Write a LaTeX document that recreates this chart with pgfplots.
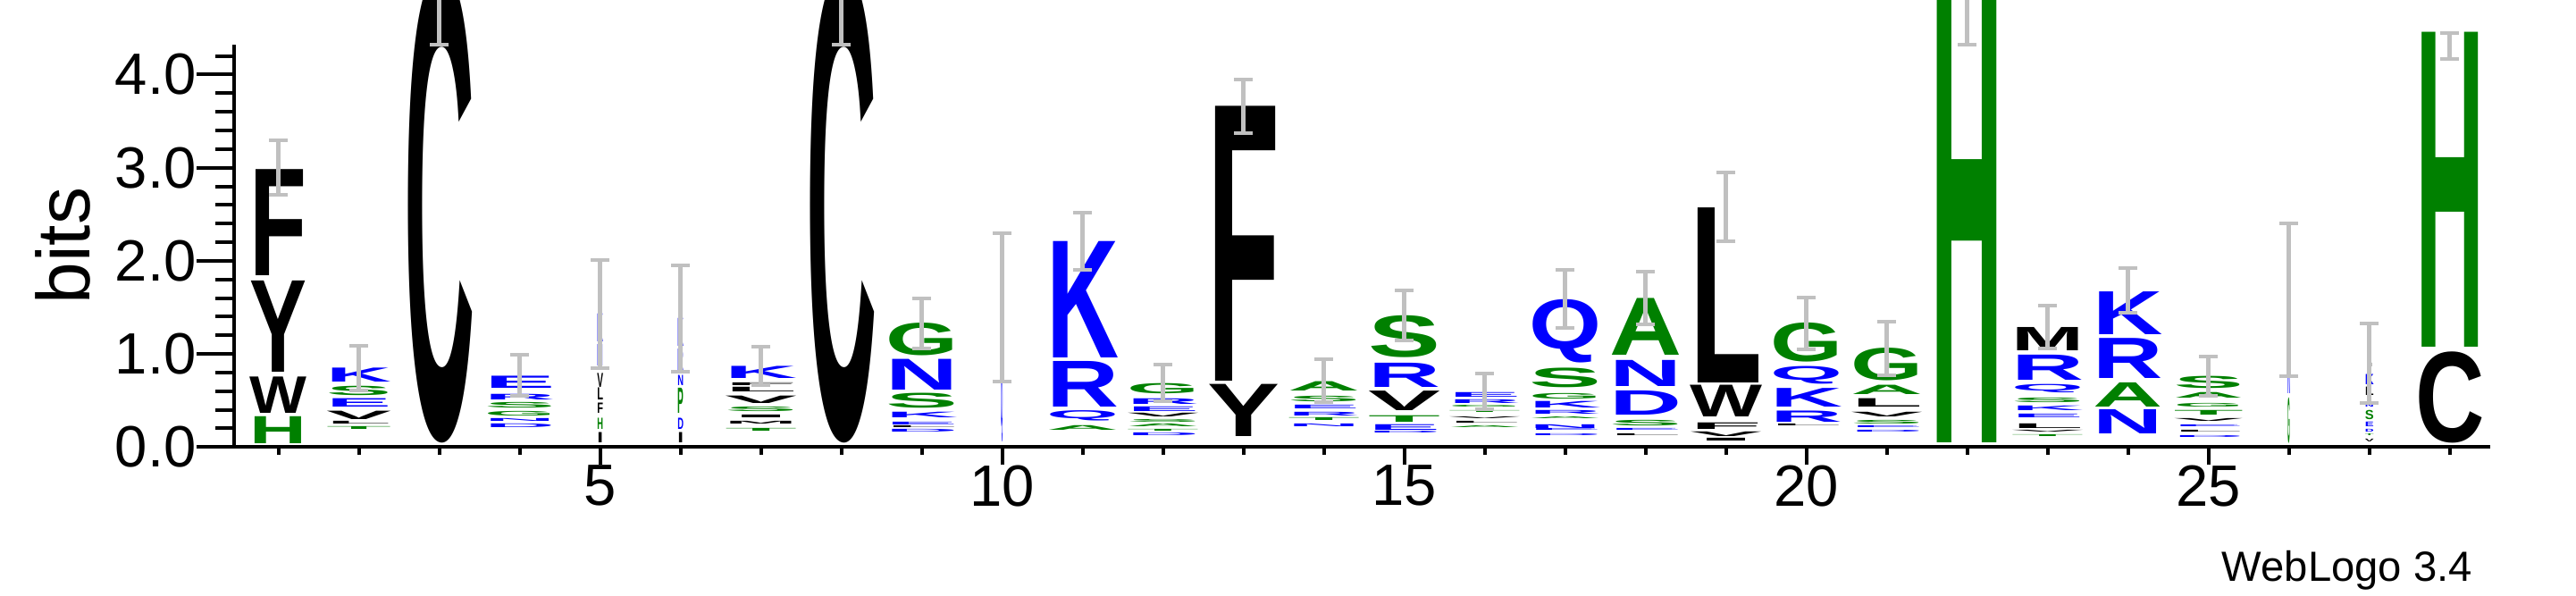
\documentclass[border=0pt]{standalone}
\usepackage{fontspec}
\setmainfont{Liberation Sans}
\usepackage{graphicx}
\usepackage{pgfplots}
\usepackage{pgfplotstable}
\pgfplotsset{compat=1.18}
\definecolor{wlgreen}{RGB}{0,128,0}
\definecolor{wlblue}{RGB}{0,0,255}
\definecolor{errgray}{RGB}{192,192,192}

\pgfplotstableread{
x y h w L
1 0.04 0.29 0.71 H
2 0.19 0.03 0.81 T
2 0.55 0.10 0.81 S
4 0.33 0.05 0.88 G
4 0.42 0.06 0.88 S
5 0.19 0.12 0.075 H
6 0.36 0.27 0.075 P
7 0.17 0.03 0.9 T
7 0.38 0.05 0.9 S
9 0.42 0.16 0.9 S
9 0.98 0.35 0.9 G
11 0.18 0.05 0.9 A
12 0.16 0.02 0.9 T
12 0.21 0.03 0.9 A
12 0.26 0.03 0.9 S
12 0.57 0.11 0.9 G
14 0.28 0.03 0.9 T
14 0.49 0.06 0.9 S
14 0.60 0.10 0.9 A
15 0.27 0.07 0.9 T
15 0.96 0.45 0.9 S
16 0.20 0.02 0.9 A
16 0.36 0.02 0.9 T
16 0.42 0.02 0.9 G
17 0.30 0.02 0.9 A
17 0.52 0.06 0.9 G
17 0.64 0.21 0.9 S
18 0.23 0.06 0.9 S
18 0.99 0.61 0.9 A
20 0.91 0.42 0.9 G
21 0.25 0.04 0.9 S
21 0.56 0.10 0.9 A
21 0.71 0.35 0.9 G
22 0.05 5.05 0.91 H
23 0.10 0.02 0.9 T
23 0.48 0.05 0.9 S
24 0.43 0.26 0.87 A
25 0.34 0.05 0.87 T
25 0.43 0.04 0.87 G
25 0.53 0.06 0.87 A
25 0.63 0.13 0.87 S
26 0.04 0.49 0.03 G
27 0.11 0.02 0.11 T
27 0.29 0.10 0.11 S
28 1.07 3.38 0.86 H
}\greentab

\pgfplotstableread{
x y h w L
2 0.43 0.09 0.81 E
2 0.70 0.15 0.81 K
4 0.21 0.04 0.88 D
4 0.27 0.03 0.88 N
4 0.51 0.06 0.88 R
4 0.63 0.13 0.88 E
5 0.87 0.23 0.075 N
5 1.13 0.30 0.075 K
6 0.19 0.12 0.075 D
6 0.66 0.11 0.075 N
6 0.82 0.23 0.075 R
6 1.08 0.30 0.075 K
7 0.74 0.13 0.9 K
9 0.16 0.03 0.9 D
9 0.23 0.03 0.9 E
9 0.31 0.06 0.9 K
9 0.61 0.33 0.9 N
10 0.05 0.75 0.025 Q
10 0.82 0.69 0.025 K
11 0.28 0.11 0.9 Q
11 0.43 0.49 0.9 R
11 0.96 1.25 0.9 K
12 0.12 0.03 0.9 D
12 0.38 0.05 0.9 E
12 0.46 0.06 0.9 R
14 0.21 0.03 0.9 N
14 0.33 0.04 0.9 R
14 0.41 0.04 0.9 E
15 0.14 0.02 0.9 D
15 0.18 0.06 0.9 E
15 0.64 0.26 0.9 R
16 0.47 0.04 0.9 R
16 0.54 0.05 0.9 E
17 0.11 0.02 0.9 D
17 0.17 0.02 0.9 E
17 0.20 0.04 0.9 N
17 0.35 0.04 0.9 R
17 0.42 0.07 0.9 K
17 0.90 0.68 0.9 Q
18 0.17 0.02 0.9 E
18 0.34 0.26 0.9 D
18 0.65 0.28 0.9 N
20 0.27 0.12 0.9 R
20 0.43 0.20 0.9 K
20 0.68 0.19 0.9 Q
21 0.15 0.02 0.9 D
21 0.20 0.02 0.9 E
23 0.31 0.04 0.9 E
23 0.39 0.05 0.9 K
23 0.58 0.09 0.9 Q
23 0.72 0.27 0.9 R
24 0.14 0.26 0.87 N
24 0.74 0.43 0.87 R
24 1.21 0.46 0.87 K
25 0.09 0.02 0.87 D
25 0.21 0.02 0.87 E
26 0.57 1.00 0.03 K
27 0.16 0.03 0.11 D
27 0.22 0.05 0.11 E
27 0.43 0.03 0.11 N
27 0.67 0.11 0.11 K
}\bluetab

\pgfplotstableread{
x y h w L
1 0.36 0.39 0.71 W
1 0.80 0.98 0.71 Y
1 1.84 1.14 0.71 F
2 0.24 0.03 0.81 L
2 0.30 0.09 0.81 V
3 0.04 5.06 0.88 C
5 0.05 0.11 0.075 I
5 0.36 0.11 0.075 F
5 0.51 0.13 0.075 L
5 0.64 0.15 0.075 V
6 0.05 0.11 0.075 I
7 0.24 0.03 0.9 M
7 0.31 0.03 0.9 I
7 0.47 0.08 0.9 V
7 0.59 0.05 0.9 L
7 0.66 0.03 0.9 F
8 0.04 5.06 0.88 C
9 0.20 0.02 0.9 L
12 0.32 0.04 0.9 V
13 0.11 0.56 0.9 Y
13 0.71 2.95 0.9 F
15 0.39 0.21 0.9 V
16 0.25 0.02 0.9 L
16 0.30 0.02 0.9 V
18 0.11 0.02 0.9 L
19 0.06 0.03 0.9 I
19 0.11 0.05 0.9 V
19 0.19 0.07 0.9 F
19 0.32 0.34 0.9 W
19 0.69 1.88 0.9 L
20 0.22 0.02 0.9 L
21 0.32 0.05 0.9 V
21 0.43 0.09 0.9 L
23 0.15 0.02 0.9 V
23 0.20 0.05 0.9 L
23 1.03 0.25 0.9 M
25 0.15 0.02 0.87 L
25 0.27 0.03 0.87 V
27 0.05 0.03 0.11 V
27 0.55 0.09 0.11 L
27 0.86 0.04 0.11 I
28 0.04 0.98 0.86 C
}\blacktab

\pgfplotstableread{
x y e
1 3.00 0.29
2 0.85 0.24
3 5.10 0.78
4 0.77 0.22
5 1.43 0.58
6 1.38 0.57
7 0.87 0.21
8 5.10 0.78
9 1.33 0.27
10 1.50 0.80
11 2.21 0.31
12 0.69 0.20
13 3.66 0.29
14 0.71 0.23
15 1.41 0.27
16 0.60 0.19
17 1.59 0.31
18 1.60 0.28
19 2.58 0.37
20 1.33 0.28
21 1.06 0.29
22 5.10 0.78
23 1.29 0.23
24 1.68 0.24
25 0.76 0.21
26 1.58 0.82
27 0.90 0.43
28 4.31 0.14
}\errtab

\pgfplotsset{
  logo/.style={only marks, mark=none, point meta=explicit symbolic,
    visualization depends on={\thisrow{h}*26.05 \as \hval},
    visualization depends on={\thisrow{w}*22.5 \as \wval},
    nodes near coords={\resizebox*{\wval pt}{\hval pt}{\bfseries\pgfplotspointmeta}},
    every node near coord/.append style={anchor=south, inner sep=0pt, outer sep=0pt, text=#1}},
  common/.style={x=22.5pt, y=26.05pt, xmin=0.45, xmax=28.5, ymin=0, ymax=4.32,
    clip=false, axis line style={line width=1pt, -, black},
    tick align=outside, tick style={line width=1pt, black},
    /pgf/number format/assume math mode=true,
    tick label style={font=\fontsize{16.3}{18}\selectfont}}
}

\begin{document}
\begin{tikzpicture}
\begin{axis}[common,
  axis x line=none, axis y line*=left,
  ytick={0,1,2,3,4},
  minor ytick={0.2,0.4,0.6,0.8,1.2,1.4,1.6,1.8,2.2,2.4,2.6,2.8,3.2,3.4,3.6,3.8,4.2},
  major tick length=10.5pt, minor tick length=5.25pt,
  yticklabel style={anchor=east, inner sep=0pt,
    /pgf/number format/.cd, fixed, fixed zerofill, precision=1}]
\end{axis}
\begin{axis}[common,
  axis y line=none, axis x line*=bottom,
  xtick={5,10,15,20,25}, minor xtick={1,...,28},
  major tick length=5pt, minor tick length=2.25pt,
  xticklabel style={anchor=north, inner sep=0pt}]
\addplot[logo=wlgreen] table[x=x, y=y, meta=L] {\greentab};
\addplot[logo=wlblue] table[x=x, y=y, meta=L] {\bluetab};
\addplot[logo=black] table[x=x, y=y, meta=L] {\blacktab};
\node[rotate=90, anchor=base, font=\fontsize{21}{24}\selectfont] at (axis cs:-1.352,2.16) {bits};
\node[anchor=base east, font=\fontsize{11.8}{14}\selectfont] at (axis cs:28.437,-1.446) {WebLogo 3.4};
\coordinate (bbsw) at (axis cs:-2.4633,-1.5998);
\coordinate (bbne) at (axis cs:29.57,4.8013);
\end{axis}
\begin{axis}[common, hide axis]
\addplot[draw=none, mark=none,
  error bars/.cd, y dir=both, y explicit, error mark=|,
  error bar style={line width=1.2pt, draw=errgray, solid},
  error mark options={line width=1pt, draw=errgray, mark size=2.6pt, solid}]
  table[x=x, y=y, y error=e] {\errtab};
\end{axis}
\pgfresetboundingbox
\useasboundingbox (bbsw) rectangle (bbne);
\end{tikzpicture}
\end{document}
